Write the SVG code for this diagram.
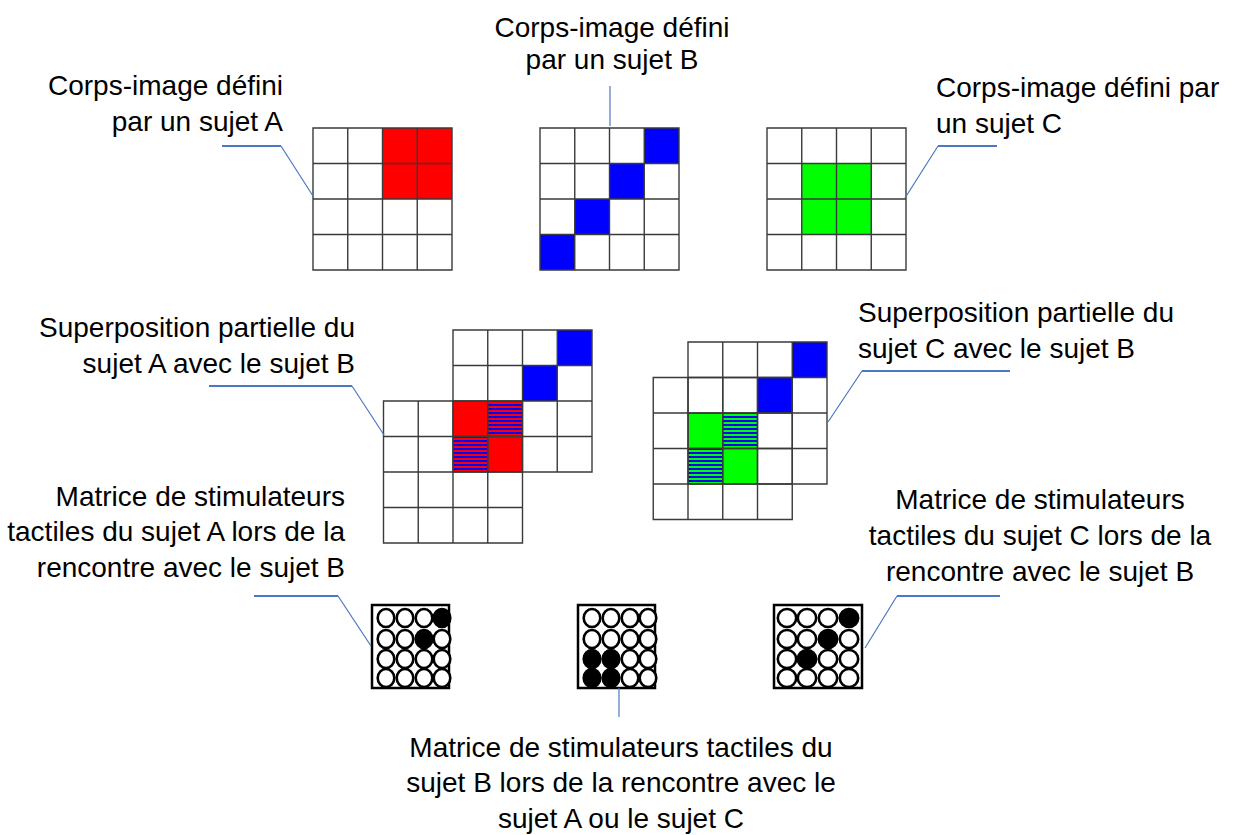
<svg xmlns="http://www.w3.org/2000/svg" width="1244" height="835" viewBox="0 0 1244 835">
<style>
.t{font-family:"Liberation Sans",Arial,sans-serif;font-size:28px;fill:#000}
.e{text-anchor:end}
.m{text-anchor:middle}
.gl{fill:none;stroke:#3a3a3a;stroke-width:1.4}
.bg{fill:#fff}
.red{fill:#ff0000}
.blue{fill:#0000ff}
.green{fill:#00ff00}
.box{fill:#fff;stroke:#000;stroke-width:2.5}
.c{fill:#fff;stroke:#000;stroke-width:2.6}
.f{fill:#000;stroke:#000;stroke-width:2.6}
.ln{fill:none;stroke:#4a78c2;stroke-width:1.2}
.lh{fill:none;stroke:#4a78c2;stroke-width:2.2}
</style>
<defs>
<path id="grid" d="M0,0H139V142H0Z M34.75,0V142 M69.5,0V142 M104.25,0V142 M0,35.5H139 M0,71H139 M0,106.5H139"/>
<pattern id="rb" patternUnits="userSpaceOnUse" width="4" height="4"><rect width="4" height="4" fill="#ff0000"/><rect width="4" height="2" fill="#0000ff"/></pattern>
<pattern id="gb" patternUnits="userSpaceOnUse" width="4" height="4"><rect width="4" height="4" fill="#00ff00"/><rect width="4" height="2" fill="#0000ff"/></pattern>
</defs>

<g id="label-A">
<text class="t e" x="283" y="95">Corps-image défini</text>
<text class="t e" x="283" y="131">par un sujet A</text>
</g>
<g id="label-B">
<text class="t m" x="612" y="37">Corps-image défini</text>
<text class="t m" x="612" y="69">par un sujet B</text>
</g>
<g id="label-C">
<text class="t" x="936" y="97">Corps-image défini par</text>
<text class="t" x="936" y="133">un sujet C</text>
</g>

<g id="grid-A">
<rect class="bg" x="313" y="128" width="139" height="142"/>
<rect class="red" x="382.5" y="128" width="69.5" height="71"/>
<use href="#grid" x="313" y="128" class="gl"/>
</g>
<g id="grid-B">
<rect class="bg" x="540" y="128" width="139" height="142"/>
<rect class="blue" x="644.25" y="128" width="34.75" height="35.5"/>
<rect class="blue" x="609.5" y="163.5" width="34.75" height="35.5"/>
<rect class="blue" x="574.75" y="199" width="34.75" height="35.5"/>
<rect class="blue" x="540" y="234.5" width="34.75" height="35.5"/>
<use href="#grid" x="540" y="128" class="gl"/>
</g>
<g id="grid-C">
<rect class="bg" x="767" y="128" width="139" height="142"/>
<rect class="green" x="801.75" y="163.5" width="69.5" height="71"/>
<use href="#grid" x="767" y="128" class="gl"/>
</g>

<g id="label-AB">
<text class="t e" x="355" y="337">Superposition partielle du</text>
<text class="t e" x="355" y="373">sujet A avec le sujet B</text>
</g>
<g id="overlap-AB">
<rect class="bg" x="453" y="330" width="139" height="142"/>
<rect class="bg" x="383.5" y="401" width="139" height="142"/>
<rect class="blue" x="557.25" y="330" width="34.75" height="35.5"/>
<rect class="blue" x="522.5" y="365.5" width="34.75" height="35.5"/>
<rect class="red" x="453" y="401" width="34.75" height="35.5"/>
<rect class="red" x="487.75" y="436.5" width="34.75" height="35.5"/>
<rect fill="url(#rb)" x="487.75" y="401" width="34.75" height="35.5"/>
<rect fill="url(#rb)" x="453" y="436.5" width="34.75" height="35.5"/>
<use href="#grid" x="453" y="330" class="gl"/>
<use href="#grid" x="383.5" y="401" class="gl"/>
</g>

<g id="label-CB">
<text class="t" x="858" y="322">Superposition partielle du</text>
<text class="t" x="858" y="358">sujet C avec le sujet B</text>
</g>
<g id="overlap-CB">
<rect class="bg" x="688" y="342" width="139" height="142"/>
<rect class="bg" x="653.25" y="377.5" width="139" height="142"/>
<rect class="blue" x="792.25" y="342" width="34.75" height="35.5"/>
<rect class="blue" x="757.5" y="377.5" width="34.75" height="35.5"/>
<rect class="green" x="688" y="413" width="34.75" height="35.5"/>
<rect class="green" x="722.75" y="448.5" width="34.75" height="35.5"/>
<rect fill="url(#gb)" x="722.75" y="413" width="34.75" height="35.5"/>
<rect fill="url(#gb)" x="688" y="448.5" width="34.75" height="35.5"/>
<use href="#grid" x="688" y="342" class="gl"/>
<use href="#grid" x="653.25" y="377.5" class="gl"/>
</g>

<g id="label-mA">
<text class="t e" x="345" y="506">Matrice de stimulateurs</text>
<text class="t e" x="345" y="541">tactiles du sujet A lors de la</text>
<text class="t e" x="345" y="577">rencontre avec le sujet B</text>
</g>
<g id="label-mC">
<text class="t m" x="1040" y="509">Matrice de stimulateurs</text>
<text class="t m" x="1040" y="545">tactiles du sujet C lors de la</text>
<text class="t m" x="1040" y="581">rencontre avec le sujet B</text>
</g>
<g id="label-mB">
<text class="t m" x="621" y="757">Matrice de stimulateurs tactiles du</text>
<text class="t m" x="621" y="792">sujet B lors de la rencontre avec le</text>
<text class="t m" x="621" y="828">sujet A ou le sujet C</text>
</g>

<g id="matrix-A">
<rect class="box" x="372" y="605" width="77" height="83"/>
<g transform="translate(372,605)">
<ellipse class="c" cx="14" cy="13" rx="8.3" ry="9"/><ellipse class="c" cx="33" cy="13" rx="8.3" ry="9"/><ellipse class="c" cx="52" cy="13" rx="8.3" ry="9"/><ellipse class="f" cx="70" cy="13" rx="8.3" ry="9"/>
<ellipse class="c" cx="14" cy="34" rx="8.3" ry="9"/><ellipse class="c" cx="33" cy="34" rx="8.3" ry="9"/><ellipse class="f" cx="52" cy="34" rx="8.3" ry="9"/><ellipse class="c" cx="70" cy="34" rx="8.3" ry="9"/>
<ellipse class="c" cx="14" cy="54" rx="8.3" ry="9"/><ellipse class="c" cx="33" cy="54" rx="8.3" ry="9"/><ellipse class="c" cx="52" cy="54" rx="8.3" ry="9"/><ellipse class="c" cx="70" cy="54" rx="8.3" ry="9"/>
<ellipse class="c" cx="14" cy="73" rx="8.3" ry="9"/><ellipse class="c" cx="33" cy="73" rx="8.3" ry="9"/><ellipse class="c" cx="52" cy="73" rx="8.3" ry="9"/><ellipse class="c" cx="70" cy="73" rx="8.3" ry="9"/>
</g>
</g>
<g id="matrix-B">
<rect class="box" x="578" y="605" width="77" height="83"/>
<g transform="translate(578,605)">
<ellipse class="c" cx="14" cy="13" rx="8.3" ry="9"/><ellipse class="c" cx="33" cy="13" rx="8.3" ry="9"/><ellipse class="c" cx="52" cy="13" rx="8.3" ry="9"/><ellipse class="c" cx="70" cy="13" rx="8.3" ry="9"/>
<ellipse class="c" cx="14" cy="34" rx="8.3" ry="9"/><ellipse class="c" cx="33" cy="34" rx="8.3" ry="9"/><ellipse class="c" cx="52" cy="34" rx="8.3" ry="9"/><ellipse class="c" cx="70" cy="34" rx="8.3" ry="9"/>
<ellipse class="f" cx="14" cy="54" rx="8.3" ry="9"/><ellipse class="f" cx="33" cy="54" rx="8.3" ry="9"/><ellipse class="c" cx="52" cy="54" rx="8.3" ry="9"/><ellipse class="c" cx="70" cy="54" rx="8.3" ry="9"/>
<ellipse class="f" cx="14" cy="73" rx="8.3" ry="9"/><ellipse class="f" cx="33" cy="73" rx="8.3" ry="9"/><ellipse class="c" cx="52" cy="73" rx="8.3" ry="9"/><ellipse class="c" cx="70" cy="73" rx="8.3" ry="9"/>
</g>
</g>
<g id="matrix-C">
<rect class="box" x="774" y="605" width="88" height="83"/>
<g transform="translate(774,605)">
<ellipse class="c" cx="13" cy="13" rx="9.2" ry="9"/><ellipse class="c" cx="33" cy="13" rx="9.2" ry="9"/><ellipse class="c" cx="54" cy="13" rx="9.2" ry="9"/><ellipse class="f" cx="75" cy="13" rx="9.2" ry="9"/>
<ellipse class="c" cx="13" cy="34" rx="9.2" ry="9"/><ellipse class="c" cx="33" cy="34" rx="9.2" ry="9"/><ellipse class="f" cx="54" cy="34" rx="9.2" ry="9"/><ellipse class="c" cx="75" cy="34" rx="9.2" ry="9"/>
<ellipse class="c" cx="13" cy="54" rx="9.2" ry="9"/><ellipse class="f" cx="33" cy="54" rx="9.2" ry="9"/><ellipse class="c" cx="54" cy="54" rx="9.2" ry="9"/><ellipse class="c" cx="75" cy="54" rx="9.2" ry="9"/>
<ellipse class="c" cx="13" cy="73" rx="9.2" ry="9"/><ellipse class="c" cx="33" cy="73" rx="9.2" ry="9"/><ellipse class="c" cx="54" cy="73" rx="9.2" ry="9"/><ellipse class="c" cx="75" cy="73" rx="9.2" ry="9"/>
</g>
</g>

<g id="connectors">
<path class="lh" d="M222,146H281"/><path class="ln" d="M281,146L313,196"/>
<path class="ln" d="M610,86V126"/>
<path class="lh" d="M938,146H997"/><path class="ln" d="M938,146L905,198"/>
<path class="lh" d="M209,386H352"/><path class="ln" d="M352,386L384,435"/>
<path class="lh" d="M862,371H1010"/><path class="ln" d="M862,371L828,422"/>
<path class="lh" d="M254,596H338"/><path class="ln" d="M338,596L371,646"/>
<path class="ln" d="M619,688V717"/>
<path class="lh" d="M897,596H1000"/><path class="ln" d="M897,596L865,648"/>
</g>
</svg>
